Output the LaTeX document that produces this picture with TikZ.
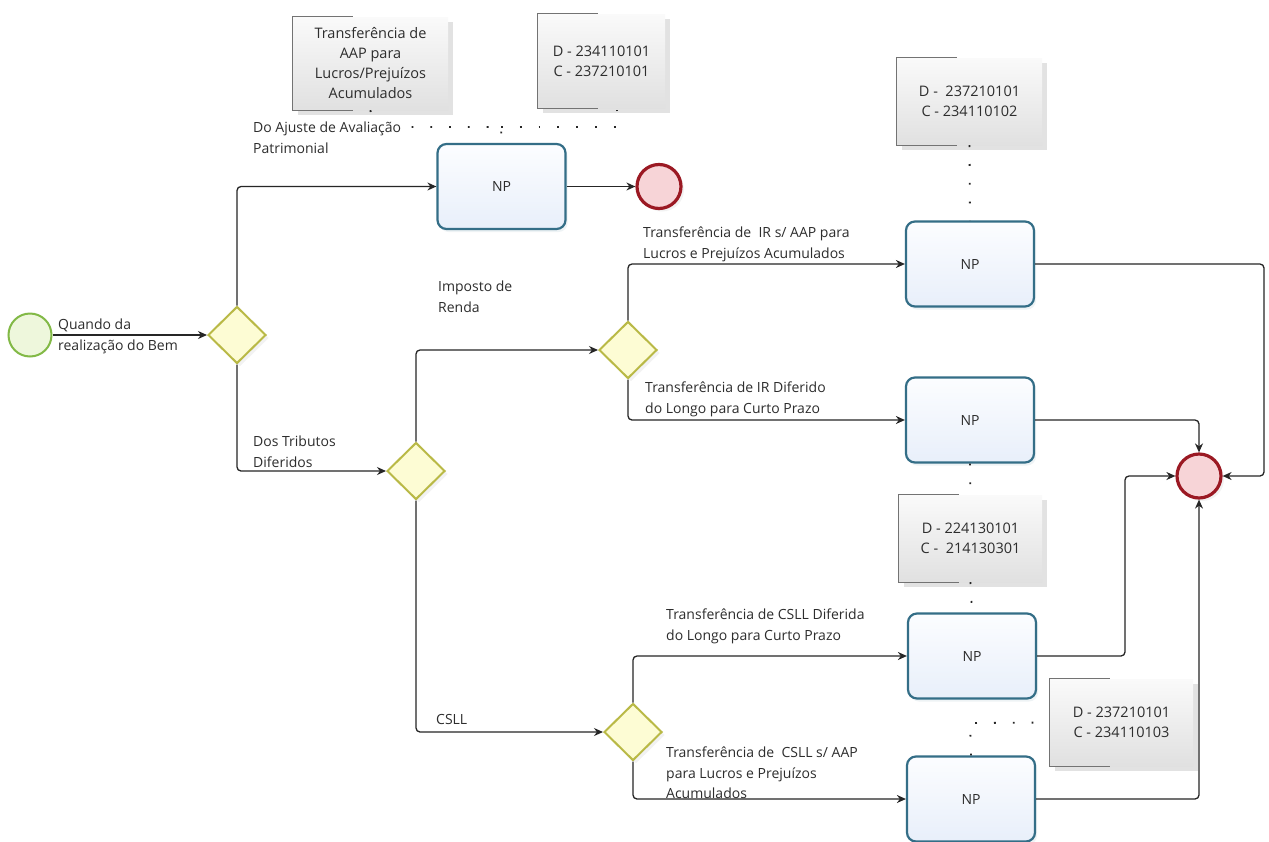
\documentclass[tikz,border=0pt]{standalone}
\usepackage{fontspec}
\setmainfont{Open Sans}
\usetikzlibrary{shapes.geometric,arrows.meta,shadows}
\definecolor{npborder}{RGB}{52,110,135}
\definecolor{nptop}{RGB}{252,253,255}
\definecolor{npbot}{RGB}{232,239,250}
\definecolor{gwborder}{RGB}{185,185,70}
\definecolor{gwfill}{RGB}{253,252,212}
\definecolor{stborder}{RGB}{130,185,70}
\definecolor{stfill}{RGB}{238,247,220}
\definecolor{enborder}{RGB}{155,25,35}
\definecolor{enfill}{RGB}{247,212,215}
\definecolor{txt}{RGB}{45,45,45}
\newcommand{\lblfont}{\fontsize{14}{20.5}\selectfont}
\newcommand{\annfont}{\fontsize{14.5}{20}\selectfont}
\newcommand{\lstr}{\rule{0pt}{14.5pt}}
\tikzset{
  flow/.style={line width=1.3pt, draw=black!85, rounded corners=4pt, -{Stealth[length=9pt,width=8pt]}},
  assoc/.style={line width=1.8pt, draw=black!85, dash pattern=on 1.8pt off 17pt},
  np/.style={draw=npborder, line width=2.2pt, rounded corners=9pt, top color=nptop, bottom color=npbot,
    minimum width=128pt, minimum height=85pt, inner sep=0pt, font=\lblfont, text=txt,
    drop shadow={shadow xshift=2pt, shadow yshift=-3pt, opacity=0.2, fill=npborder!40}},
  gw/.style={diamond, draw=gwborder, fill=gwfill, line width=2pt, minimum width=58pt, minimum height=57pt, inner sep=0pt,
    drop shadow={shadow xshift=3pt, shadow yshift=-3pt, opacity=0.12, fill=black!40}},
  startev/.style={circle, draw=stborder, fill=stfill, line width=2pt, minimum size=43pt, inner sep=0pt},
  endev/.style={circle, draw=enborder, fill=enfill, line width=3.2pt, minimum size=44pt, inner sep=0pt,
    drop shadow={shadow xshift=3pt, shadow yshift=-3pt, opacity=0.12, fill=black!40}},
  annot/.style={rectangle, inner sep=0pt, top color=gray!4, bottom color=gray!24, align=center, font=\annfont, text=txt,
    drop shadow={shadow xshift=5pt, shadow yshift=-5pt, opacity=0.25, fill=black!45}},
  brk/.style={draw=black!55, line width=1.3pt},
  lbl/.style={anchor=north west, inner sep=0pt, align=left, font=\lblfont, text=txt}
}
\begin{document}
\begin{tikzpicture}[x=1pt,y=-1pt]
\useasboundingbox[fill=white] (0,0) rectangle (1269,841);

% annotations
\node[annot, minimum width=155pt, minimum height=93pt] (bA) at (370.5,63.5) {Transferência de\\AAP para\\Lucros/Prejuízos\\Acumulados};
\node[annot, minimum width=127pt, minimum height=94pt] (bB) at (601.5,61) {D - 234110101\\C - 237210101};
\node[annot, minimum width=145pt, minimum height=87pt] (bC) at (969.5,101.5) {D -\ \ 237210101\\C - 234110102};
\node[annot, minimum width=143pt, minimum height=87pt] (bD) at (970.5,538.5) {D - 224130101\\C -\ \ 214130301};
\node[annot, minimum width=143pt, minimum height=87pt] (bE) at (1121.5,722.5) {D - 237210101\\C - 234110103};
\foreach \b in {bA,bB,bC,bD,bE}{
  \draw[brk] (\b.north west) ++(60,0) -- (\b.north west) -- (\b.south west) -- ++(60,0);
}

% nodes
\node[startev] (start) at (30,335) {};
\node[gw] (g1) at (237,335) {};
\node[gw] (g2) at (416,471) {};
\node[gw] (g3) at (628,350) {};
\node[gw] (g4) at (633,732) {};
\node[np] (np1) at (501.5,186.5) {NP};
\node[np] (np2) at (970,264) {NP};
\node[np] (np3) at (970,420) {NP};
\node[np] (np4) at (972,656) {NP};
\node[np] (np5) at (971,799) {NP};
\node[endev] (end1) at (659,186.5) {};
\node[endev] (end2) at (1199,476) {};

% associations
\coordinate (aA) at (372,127);
\coordinate (aN) at (501,127);
\coordinate (aB) at (617,127);
\draw[assoc] (bA.south) -- (aA) -- (aN) -- (np1.north);
\draw[assoc] (aN) -- (aB) -- (aB |- bB.south);
\draw[assoc] (bC.south) -- (np2.north);
\draw[assoc] (np3.south) -- (bD.north);
\draw[assoc] (bD.south) -- (np4.north);
\coordinate (aE) at (970,723);
\draw[assoc] (np5.north) -- (aE) -- (bE.west);

% flows
\draw[flow] (start.east) -- (g1.west);
\draw[flow] (g1.north) |- (np1.west);
\draw[flow] (g1.south) |- (g2.west);
\draw[flow] (np1.east) -- (end1.west);
\draw[flow] (g2.north) |- (g3.west);
\draw[flow] (g2.south) |- (g4.west);
\draw[flow] (g3.north) |- (np2.west);
\draw[flow] (g3.south) |- (np3.west);
\draw[flow] (g4.north) |- (np4.west);
\draw[flow] (g4.south) |- (np5.west);
\draw[flow] (np2.east) -| (1264,476) -- (end2.east);
\draw[flow] (np3.east) -| (end2.north);
\draw[flow] (np4.east) -| (1125,476) -- (end2.west);
\draw[flow] (np5.east) -| (end2.south);

% labels
\node[lbl] at (58,315) {\lstr Quando da\\realização do Bem};
\node[lbl, fill=white, inner sep=1pt] at (252,117) {\lstr Do Ajuste de Avaliação\\Patrimonial};
\node[lbl] at (253,432) {\lstr Dos Tributos\\Diferidos};
\node[lbl] at (438,277) {\lstr Imposto de\\Renda};
\node[lbl] at (643,223) {\lstr Transferência de\ \ IR s/ AAP para\\Lucros e Prejuízos Acumulados};
\node[lbl] at (645,378) {\lstr Transferência de IR Diferido\\do Longo para Curto Prazo};
\node[lbl] at (436,710) {\lstr CSLL};
\node[lbl] at (666,605) {\lstr Transferência de CSLL Diferida\\do Longo para Curto Prazo};
\node[lbl] at (666,743) {\lstr Transferência de\ \ CSLL s/ AAP\\para Lucros e Prejuízos\\Acumulados};
\end{tikzpicture}
\end{document}
